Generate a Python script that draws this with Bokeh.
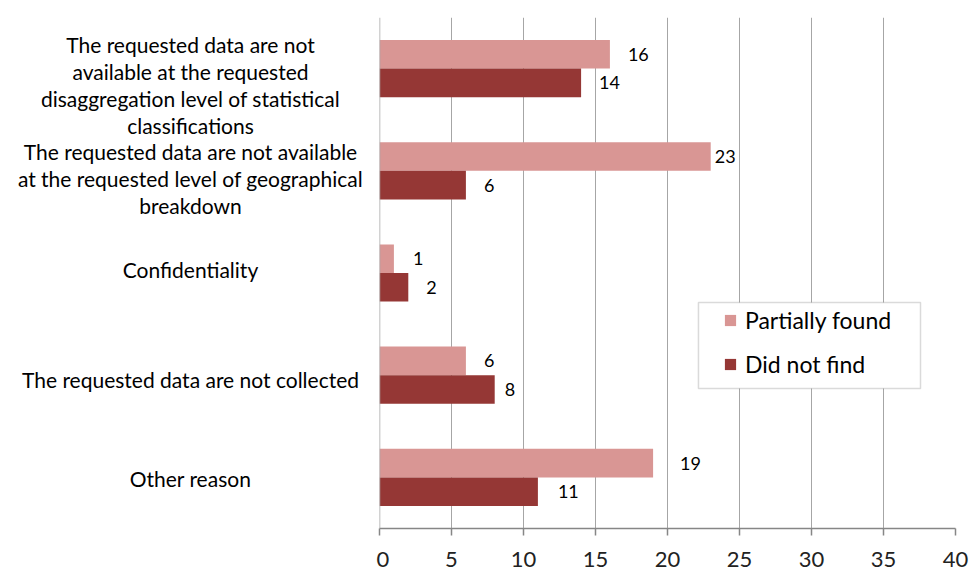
from bokeh.plotting import figure
from bokeh.models import (Range1d, FixedTicker, LabelSet, ColumnDataSource,
                          Legend, LegendItem, Span, BoxAnnotation)
from bokeh.core.properties import value
from bokeh.layouts import row
from bokeh.embed import file_html
from bokeh.resources import INLINE
import numpy as np

# Reasons (top to bottom) and counts for each answer
categories = [
    "The requested data are not\navailable at the requested\ndisaggregation level of statistical\nclassifications",
    "The requested data are not available\nat the requested level of geographical\nbreakdown",
    "Confidentiality",
    "The requested data are not collected",
    "Other reason",
]
partially_found = [16, 23, 1, 6, 19]
did_not_find = [14, 6, 2, 8, 11]
x_ticks = [0, 5, 10, 15, 20, 25, 30, 35, 40]

# Styling
FONT = "Lato"
PINK = "#D99694"
DARK = "#953735"
GRID = "#A6A6A6"
AXIS = "#868686"
BAR_H = 0.28
# Value-label gaps after bar ends (px) and downward nudges of the category texts (px)
pink_gap = [18, 4, 19, 18, 27]
dark_gap = [18, 18, 18, 10, 20]
cat_nudge = [18, 10, -2, 6, 3]
TEXT_LIFT = 19  # the left panel's text sits this much low; pull it back up

# Page geometry (px)
H = 579
TOP, BOTTOM = 17, 51
FRAME_H = H - TOP - BOTTOM

n = len(categories)
idx = np.arange(n)
y_range = Range1d(n - 0.5, -0.5)

# ---- left panel: category texts (spans the full height so no text is cut) ----
LEFT_W = 376
unit_px = FRAME_H / n
left_range = Range1d(n - 0.5 + BOTTOM / unit_px, -0.5 - TOP / unit_px)
left = figure(width=LEFT_W, height=H, frame_width=LEFT_W, frame_height=H,
              min_border_left=0, min_border_right=0, min_border_top=0,
              min_border_bottom=0, output_backend="svg", toolbar_location=None,
              x_range=Range1d(0, LEFT_W), y_range=left_range)
left.title = None
left.axis.visible = False
left.grid.visible = False
left.outline_line_color = None
cat_src = ColumnDataSource(dict(x=[190] * n, y=idx, text=categories,
                                nudge=[v - TEXT_LIFT for v in cat_nudge]))
left.text(x="x", y="y", text="text", y_offset="nudge", source=cat_src,
          text_font=value(FONT), text_font_size="21px", text_color="black",
          text_align="center", text_baseline="middle", text_line_height=1.08)

# ---- main panel: bars ----
p = figure(width=596, height=H, frame_width=576, frame_height=FRAME_H,
           min_border_left=3, min_border_right=17, min_border_top=TOP,
           min_border_bottom=BOTTOM, output_backend="svg", toolbar_location=None,
           x_range=Range1d(0, 40), y_range=y_range)
p.title = None
p.outline_line_color = None

src = ColumnDataSource(dict(
    y_pink=idx - BAR_H / 2, y_dark=idx + BAR_H / 2,
    pink=partially_found, dark=did_not_find,
    pink_txt=[str(v) for v in partially_found],
    dark_txt=[str(v) for v in did_not_find],
    pink_gap=pink_gap, dark_gap=dark_gap,
))

p.xgrid.ticker = FixedTicker(ticks=x_ticks)
p.xgrid.grid_line_color = GRID
p.xgrid.grid_line_width = 1
p.ygrid.visible = False
p.yaxis.visible = False
p.add_layout(Span(location=0, dimension="height", line_color=GRID, line_width=1.5))

r_pink = p.hbar(y="y_pink", right="pink", left=0, height=BAR_H, source=src,
                fill_color=PINK, line_color=None)
r_dark = p.hbar(y="y_dark", right="dark", left=0, height=BAR_H, source=src,
                fill_color=DARK, line_color=None)

# Value labels beside bars
for xcol, ycol, tcol, gcol in [("pink", "y_pink", "pink_txt", "pink_gap"),
                               ("dark", "y_dark", "dark_txt", "dark_gap")]:
    p.add_layout(LabelSet(x=xcol, y=ycol, text=tcol, x_offset=gcol, source=src,
                          text_font=value(FONT), text_font_size="18px",
                          text_color="black", text_align="left",
                          text_baseline="middle"))

xa = p.xaxis[0]
xa.ticker = FixedTicker(ticks=x_ticks)
xa.axis_line_color = AXIS
xa.axis_line_width = 1.5
xa.major_tick_line_color = AXIS
xa.major_tick_line_width = 1.5
xa.major_tick_out = 7
xa.major_tick_in = 0
xa.minor_tick_line_color = None
xa.major_label_text_font = FONT
xa.major_label_text_font_size = "22px"
xa.major_label_text_color = "#222222"
xa.major_label_standoff = 16

# Legend frame and entries
p.add_layout(BoxAnnotation(left=22.15, right=37.57, top=2.289, bottom=3.130,
                           fill_color="white", fill_alpha=1.0,
                           line_color=AXIS, line_width=1.5))
legend = Legend(items=[LegendItem(label="Partially found", renderers=[r_pink]),
                       LegendItem(label="Did not find", renderers=[r_dark])],
                location=(344, 150), orientation="vertical",
                label_text_font=FONT, label_text_font_size="23px",
                label_text_color="black",
                glyph_width=14, glyph_height=14, label_standoff=8,
                label_height=26, spacing=16, padding=8, margin=0,
                border_line_color=None, background_fill_alpha=0.0)
p.add_layout(legend, "center")

open("out.html", "w").write(file_html(row(left, p, spacing=0), INLINE))
